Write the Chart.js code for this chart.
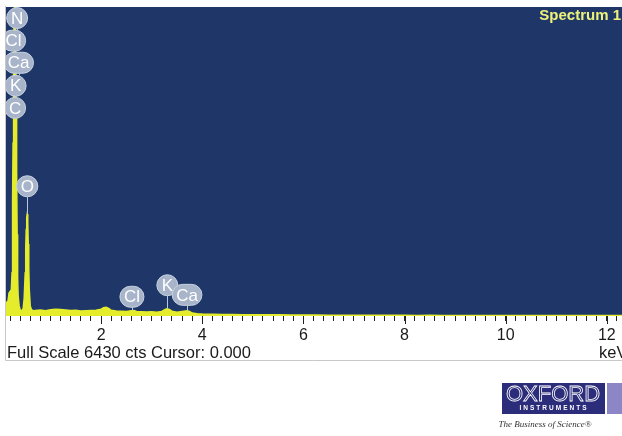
<!DOCTYPE html>
<html>
<head>
<meta charset="utf-8">
<script src="https://cdn.jsdelivr.net/npm/chart.js@4/dist/chart.umd.min.js"></script>
<style>
  html, body { margin: 0; padding: 0; background: #ffffff; }
  #wrap { position: relative; width: 622px; height: 436px; }
</style>
</head>
<body>
<div id="wrap"><canvas id="spectrum" width="622" height="436"></canvas></div>
<script>
// EDS spectrum: energy (keV) and counts per channel
const energyKeV = [
  0.10, 0.12, 0.14, 0.16, 0.18, 0.20, 0.22, 0.24, 0.25, 0.26, 0.27, 0.28, 0.29, 0.30,
  0.31, 0.32, 0.33, 0.34, 0.35, 0.36, 0.38, 0.40, 0.42, 0.44, 0.46, 0.48, 0.50, 0.51,
  0.52, 0.53, 0.54, 0.55, 0.56, 0.57, 0.58, 0.60, 0.62, 0.64, 0.66,
  0.70, 0.80, 0.90, 1.00, 1.10, 1.20, 1.30, 1.40, 1.50, 1.60, 1.70, 1.80, 1.90, 2.00,
  2.05, 2.10, 2.15, 2.20, 2.30, 2.40, 2.50, 2.60, 2.65, 2.70, 2.80, 2.90, 3.00, 3.10,
  3.20, 3.25, 3.30, 3.35, 3.40, 3.50, 3.60, 3.70, 3.75, 3.80, 3.90, 4.00, 4.20, 4.40,
  4.60, 4.80, 5.00, 5.25, 5.50, 5.75, 6.00, 6.25, 6.50, 6.75, 7.00, 7.25, 7.50, 7.75,
  8.00, 8.25, 8.50, 8.75, 9.00, 9.25, 9.50, 9.75, 10.00, 10.25, 10.50, 10.75, 11.00,
  11.25, 11.50, 11.75, 12.00, 12.30
];
const counts = [
  250, 270, 290, 310, 480, 510, 430, 900, 2400, 3600, 5000, 6200, 6700, 6600,
  5800, 4300, 3000, 1700, 800, 420, 210, 130, 105, 120, 160, 380, 900, 1400,
  1800, 2050, 2120, 1950, 1500, 1000, 550, 210, 140, 120, 110,
  115, 125, 110, 130, 140, 135, 125, 115, 120, 105, 110, 115, 120, 140,
  170, 180, 160, 120, 105, 100, 95, 110, 115, 95, 90, 85, 90, 80,
  95, 125, 150, 135, 100, 80, 95, 110, 95, 60, 45, 40, 36, 32,
  32, 28, 26, 24, 25, 22, 20, 22, 18, 17, 18, 15, 16, 14,
  14, 13, 14, 12, 12, 11, 12, 10, 10, 11, 9, 9, 10,
  8, 8, 9, 8, 8
];

// Axis range and tick values
const fullScaleCounts = 6430;
const energyMin = 0.12;
const energyMax = 12.3;
const minorTickStep = 0.2;
const labelledTicks = [2, 4, 6, 8, 10, 12];

// Peak identification markers: element, energy (keV), marker level (counts)
const peakElements = ['N', 'Cl', 'Ca', 'K', 'C', 'O', 'Cl', 'K', 'Ca'];
const peakEnergies = [0.34, 0.27, 0.37, 0.31, 0.30, 0.54, 2.61, 3.31, 3.70];
const peakLevels   = [6200, 5730, 5270, 4790, 4330, 2700, 400, 640, 440];

const spectrumTitle = 'Spectrum 1';
const statusText = 'Full Scale ' + fullScaleCounts + ' cts Cursor: 0.000';
const unitText = 'keV';

const FONT = '"Liberation Sans", Arial, Helvetica, sans-serif';
const PLOT_BG = '#1e3768';
const TRACE = '#e4ec2c';

const points = energyKeV.map((e, i) => ({ x: e, y: counts[i] }));

function countsAt(e) {
  for (let i = 0; i < energyKeV.length - 1; i++) {
    if (e >= energyKeV[i] && e <= energyKeV[i + 1]) {
      const t = (e - energyKeV[i]) / (energyKeV[i + 1] - energyKeV[i]);
      return counts[i] + t * (counts[i + 1] - counts[i]);
    }
  }
  return 0;
}

// Dark plot background behind the trace
const plotBackground = {
  id: 'plotBackground',
  beforeDatasetsDraw(chart) {
    const { ctx, chartArea: a } = chart;
    ctx.save();
    ctx.fillStyle = PLOT_BG;
    ctx.fillRect(a.left, a.top, a.right - a.left, a.bottom - a.top);
    ctx.restore();
  }
};

// Element markers: pill badges with a stem down to the trace
const peakMarkers = {
  id: 'peakMarkers',
  afterDatasetsDraw(chart) {
    const { ctx, chartArea: a, scales } = chart;
    const xs = scales.x, ys = scales.y;
    const R = 10.5;
    ctx.save();
    ctx.beginPath();
    ctx.rect(a.left, a.top, a.right - a.left, a.bottom - a.top);
    ctx.clip();
    ctx.font = '17px ' + FONT;
    const items = peakElements.map((el, i) => {
      const cx = xs.getPixelForValue(peakEnergies[i]);
      const cy = ys.getPixelForValue(peakLevels[i]);
      const w = Math.max(2 * R, ctx.measureText(el).width + 8);
      return { el, cx, cy, w, e: peakEnergies[i] };
    });
    // stems
    ctx.strokeStyle = '#b9c8da';
    ctx.lineWidth = 1;
    items.forEach(it => {
      let end = ys.getPixelForValue(countsAt(it.e));
      items.forEach(o => {
        if (o !== it && o.cy > it.cy && Math.abs(o.cx - it.cx) < 12) {
          end = Math.min(end, o.cy - R);
        }
      });
      const start = it.cy + R;
      if (end > start) {
        ctx.beginPath();
        ctx.moveTo(Math.round(it.cx) + 0.5, start);
        ctx.lineTo(Math.round(it.cx) + 0.5, end);
        ctx.stroke();
      }
    });
    // badges
    items.forEach(it => {
      const x0 = it.cx - it.w / 2, y0 = it.cy - R;
      ctx.beginPath();
      ctx.roundRect(x0, y0, it.w, 2 * R, R);
      ctx.fillStyle = '#a7b4c9';
      ctx.fill();
      ctx.strokeStyle = '#c9d3e1';
      ctx.stroke();
      ctx.fillStyle = '#ffffff';
      ctx.textAlign = 'center';
      ctx.textBaseline = 'middle';
      ctx.fillText(it.el, it.cx, it.cy + 1);
    });
    ctx.restore();
  }
};

// Titles, status line, frame and maker's mark
const decorations = {
  id: 'decorations',
  afterDraw(chart) {
    const { ctx, chartArea: a, scales } = chart;
    ctx.save();
    // long ticks at the labelled energies
    ctx.strokeStyle = '#222';
    ctx.lineWidth = 1;
    labelledTicks.forEach(v => {
      const px = Math.round(scales.x.getPixelForValue(v)) + 0.5;
      ctx.beginPath();
      ctx.moveTo(px, a.bottom);
      ctx.lineTo(px, a.bottom + 8);
      ctx.stroke();
    });
    // frame
    ctx.strokeStyle = '#c8c8c8';
    ctx.beginPath();
    ctx.moveTo(a.left - 0.5, a.top - 1);
    ctx.lineTo(a.left - 0.5, 360.5);
    ctx.lineTo(622, 360.5);
    ctx.stroke();

    // spectrum name
    ctx.fillStyle = '#eef27a';
    ctx.font = 'bold 15px ' + FONT;
    ctx.textAlign = 'right';
    ctx.textBaseline = 'alphabetic';
    ctx.fillText(spectrumTitle, 621, 20);

    // status line and unit
    ctx.fillStyle = '#1a1a1a';
    ctx.font = '16.5px ' + FONT;
    ctx.textAlign = 'left';
    ctx.fillText(statusText, 7, 358);
    ctx.fillText(unitText, 599, 358);

    // maker's mark
    ctx.fillStyle = '#2b2c7a';
    ctx.fillRect(502, 383, 103, 31);
    ctx.fillStyle = '#8c86c7';
    ctx.fillRect(607, 383, 15, 31);
    ctx.font = '22px ' + FONT;
    ctx.textAlign = 'center';
    ctx.strokeStyle = '#ffffff';
    ctx.lineWidth = 0.8;
    ctx.strokeText('OXFORD', 553, 401);
    ctx.fillStyle = '#ffffff';
    ctx.font = 'bold 6.5px ' + FONT;
    ctx.letterSpacing = '2px';
    ctx.fillText('INSTRUMENTS', 554, 410);
    ctx.letterSpacing = '0px';
    ctx.fillStyle = '#333333';
    ctx.font = 'italic 9px "Liberation Serif", "Times New Roman", serif';
    ctx.fillText('The Business of Science\u00AE', 545, 427);
    ctx.restore();
  }
};

new Chart(document.getElementById('spectrum'), {
  type: 'line',
  data: {
    datasets: [{
      data: points,
      borderColor: TRACE,
      backgroundColor: TRACE,
      borderWidth: 1.5,
      pointRadius: 0,
      tension: 0,
      fill: 'origin'
    }]
  },
  options: {
    responsive: false,
    animation: false,
    events: [],
    layout: { padding: { left: 6, top: 7, right: 0, bottom: 0 } },
    plugins: { legend: { display: false }, tooltip: { enabled: false } },
    scales: {
      x: {
        type: 'linear',
        min: energyMin,
        max: energyMax,
        border: { display: false },
        grid: { drawOnChartArea: false, tickLength: 5, color: '#222', tickWidth: 1 },
        ticks: {
          stepSize: minorTickStep,
          autoSkip: false,
          includeBounds: false,
          maxRotation: 0,
          padding: 5,
          color: '#1a1a1a',
          font: { family: FONT, size: 16 },
          callback: v => {
            const r = Math.round(v);
            return (Math.abs(v - r) < 1e-6 && labelledTicks.includes(r)) ? String(r) : '';
          }
        },
        afterFit: s => { s.height = 120; }
      },
      y: {
        display: false,
        min: 0,
        max: fullScaleCounts
      }
    }
  },
  plugins: [plotBackground, peakMarkers, decorations]
});
</script>
</body>
</html>
